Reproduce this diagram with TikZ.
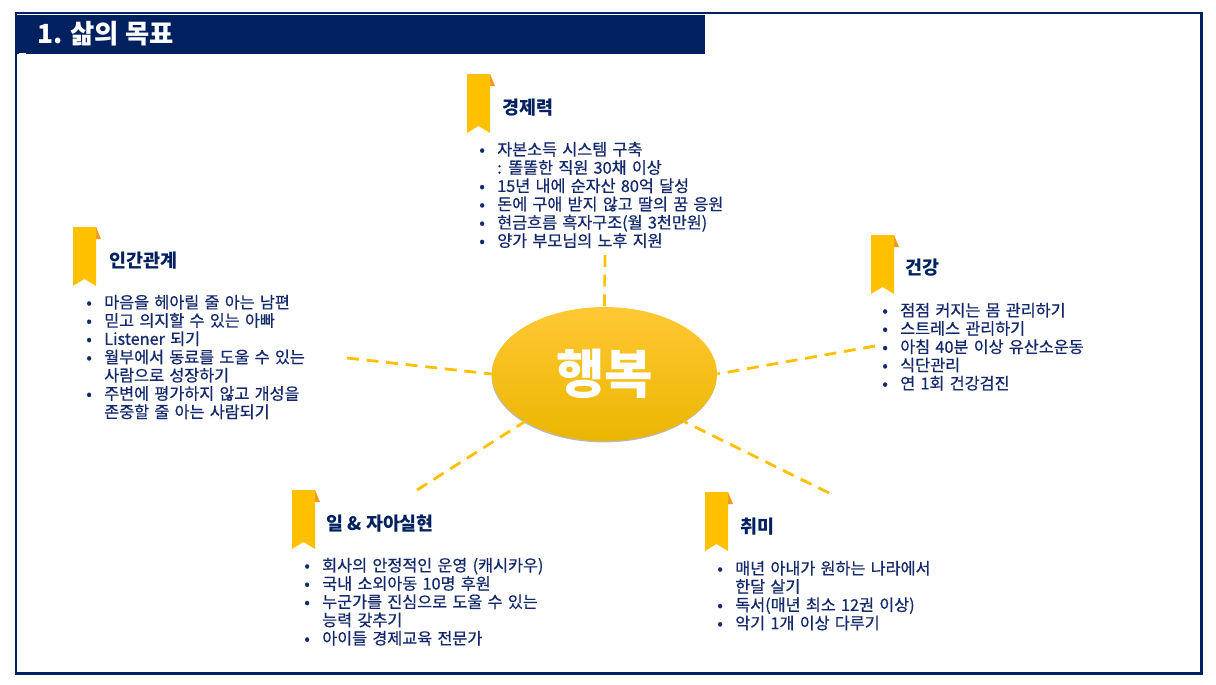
\documentclass[tikz,border=0pt]{standalone}
\usepackage{fontspec}
\setmainfont{Noto Sans CJK KR}
\newfontfamily\listfont{Noto Sans CJK KR}[FakeBold=0.7,WordSpace=1.45]
\usetikzlibrary{shapes.geometric,shadows}
\definecolor{navy1}{HTML}{002060}
\definecolor{navy2}{HTML}{14296B}
\definecolor{gold1}{HTML}{FFC000}
\definecolor{gold2}{HTML}{F59A1C}
\definecolor{hubtop}{HTML}{FFC835}
\definecolor{hubmid}{HTML}{FFC700}
\definecolor{hubbot}{HTML}{EBB600}
\tikzset{frame/.style={draw=navy1,line width=1.7pt},
  band/.style={fill=navy1,draw=none},
  headline/.style={anchor=west,inner sep=0pt,text=white,font=\fontsize{15}{18}\selectfont\bfseries},
  hub/.style={ellipse,inner sep=0pt,minimum width=4.5cm,minimum height=2.68cm,
    top color=hubtop,middle color=hubmid,bottom color=hubbot,
    drop shadow={shadow xshift=-0.3pt,shadow yshift=-0.8pt,fill=black!55},
    text=white,font=\fontsize{30}{32}\selectfont\bfseries},
  spoke/.style={draw=gold1,line width=1.6pt,dash pattern=on 6.8pt off 4.4pt},
  ribbon/.style={fill=gold1,draw=none},
  fold/.style={fill=gold2,draw=none},
  rim/.style={draw=none,left color=white,middle color=black!14,right color=white},
  title/.style={anchor=west,inner sep=0pt,text=navy1,font=\fontsize{10.5}{12}\selectfont\bfseries},
  items/.style={anchor=north west,inner sep=0pt,align=left,text=navy2,
    font=\listfont\fontsize{9.25}{10.4}\selectfont}}
\setlength{\unitlength}{0.567pt}
\newcommand{\bul}{\makebox[18\unitlength][l]{•}}
\newcommand{\nobul}{\hspace*{18\unitlength}}
% bookmark with its grey rim
\newcommand{\bookmark}[2]{
  \fill[rim] (#1-10,#2+9) rectangle (#1+260,#2+13);
  \fill[fold] (#1+23,#2) -- (#1+28,#2+12) -- (#1+23,#2+12) -- cycle;
  \fill[ribbon] (#1,#2) -- (#1+23,#2) -- (#1+23,#2+59) -- (#1+11.5,#2+52) -- (#1,#2+59) -- cycle;
}
\begin{document}
\begin{tikzpicture}[x=0.02cm,y=-0.02cm]
\useasboundingbox (0,0) rectangle (1216,684);
\draw[frame] (16,13) rectangle (1201,673);
\fill[band] (16,15) rectangle (705,54);
\fill[white] (18.5,53) rectangle (26,56);
\node[headline] (head) at (37,34) {1. 삶의 목표};

% centre
\node[hub] (happy) at (604.5,374) {행복};
\coordinate (topend) at (605,255);
\coordinate (leftend) at (347,358);
\coordinate (rightend) at (875,346);
\coordinate (lowleftend) at (417,490);
\coordinate (lowrightend) at (829,493);
\draw[spoke] (topend) -- (happy.north);
\draw[spoke] (leftend) -- (happy.west);
\draw[spoke] (rightend) -- (happy.east);
\draw[spoke] (lowleftend) -- (happy.south west);
\draw[spoke] (lowrightend) -- (happy.south east);

% top
\bookmark{467}{74}
\node[title] (wealth) at (502,108) {경제력};
\node[items] (wealthlist) at (479,141.5) {\bul 자본소득 시스템 구축\\\nobul : 똘똘한 직원 30채 이상\\\bul 15년 내에 순자산 80억 달성\\\bul 돈에 구애 받지 않고 딸의 꿈 응원\\\bul 현금흐름 흑자구조(월 3천만원)\\\bul 양가 부모님의 노후 지원};

% left
\bookmark{73}{227}
\node[title] (people) at (109,261) {인간관계};
\node[items] (peoplelist) at (86,294.5) {\bul 마음을 헤아릴 줄 아는 남편\\\bul 믿고 의지할 수 있는 아빠\\\bul Listener 되기\\\bul 월부에서 동료를 도울 수 있는\\\nobul 사람으로 성장하기\\\bul 주변에 평가하지 않고 개성을\\\nobul 존중할 줄 아는 사람되기};

% right
\bookmark{871}{235}
\node[title] (health) at (905,268) {건강};
\node[items] (healthlist) at (882,302.5) {\bul 점점 커지는 몸 관리하기\\\bul 스트레스 관리하기\\\bul 아침 40분 이상 유산소운동\\\bul 식단관리\\\bul 연 1회 건강검진};

% lower left
\bookmark{292}{490}
\node[title] (work) at (326,524) {일 \& 자아실현};
\node[items] (worklist) at (304,557.5) {\bul 회사의 안정적인 운영 (캐시카우)\\\bul 국내 소외아동 10명 후원\\\bul 누군가를 진심으로 도울 수 있는\\\nobul 능력 갖추기\\\bul 아이들 경제교육 전문가};

% lower right
\bookmark{705}{492}
\node[title] (hobby) at (740,527) {취미};
\node[items] (hobbylist) at (717,560.5) {\bul 매년 아내가 원하는 나라에서\\\nobul 한달 살기\\\bul 독서(매년 최소 12권 이상)\\\bul 악기 1개 이상 다루기};
\end{tikzpicture}
\end{document}
